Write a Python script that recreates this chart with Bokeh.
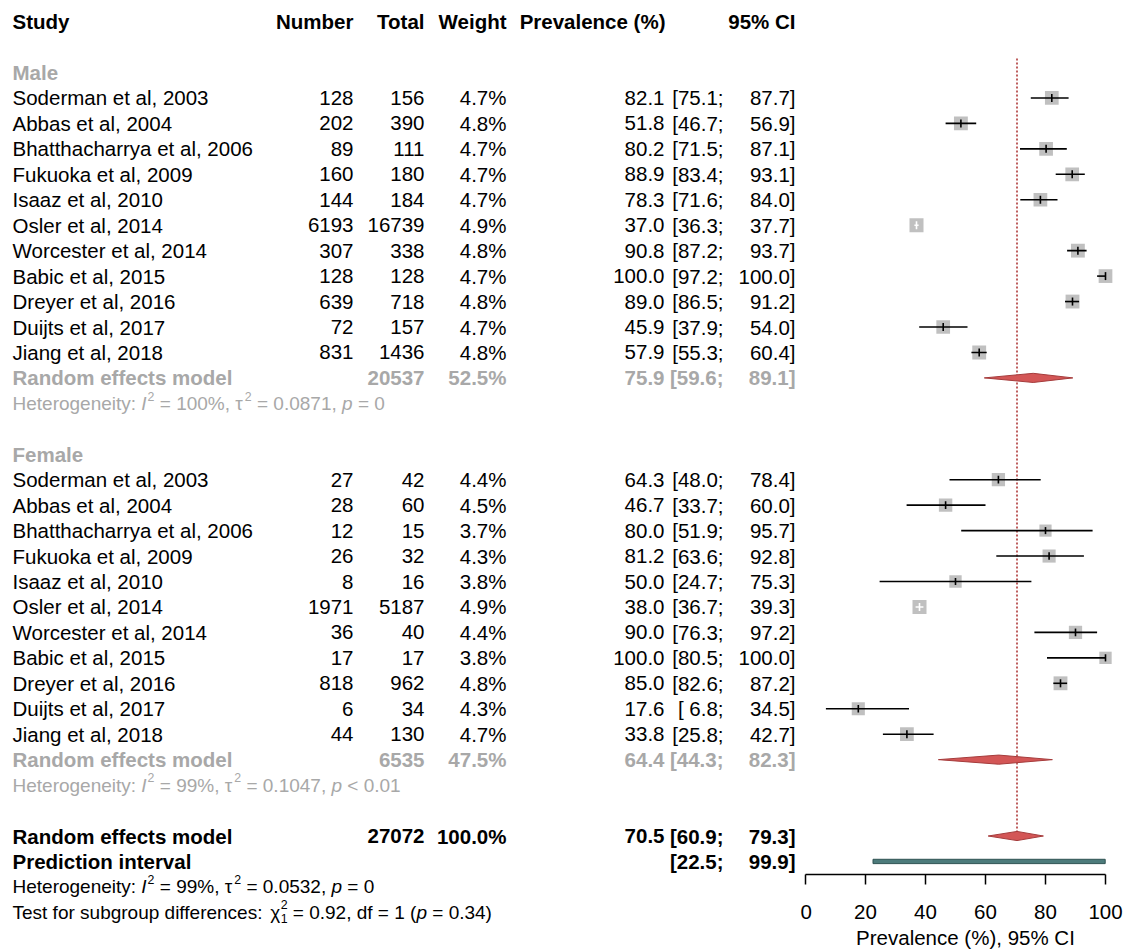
from collections import defaultdict

import numpy as np
from bokeh.core.properties import value
from bokeh.embed import file_html
from bokeh.layouts import row
from bokeh.models import ColumnDataSource, FixedTicker, Range1d
from bokeh.plotting import figure
from bokeh.resources import INLINE

# ---------------------------------------------------------------- data
studies = ["Soderman et al, 2003", "Abbas et al, 2004", "Bhatthacharrya et al, 2006",
           "Fukuoka et al, 2009", "Isaaz et al, 2010", "Osler et al, 2014",
           "Worcester et al, 2014", "Babic et al, 2015", "Dreyer et al, 2016",
           "Duijts et al, 2017", "Jiang et al, 2018"]

male_events = [128, 202, 89, 160, 144, 6193, 307, 128, 639, 72, 831]
male_total = [156, 390, 111, 180, 184, 16739, 338, 128, 718, 157, 1436]
male_weight = [4.7, 4.8, 4.7, 4.7, 4.7, 4.9, 4.8, 4.7, 4.8, 4.7, 4.8]
male_prev = [82.1, 51.8, 80.2, 88.9, 78.3, 37.0, 90.8, 100.0, 89.0, 45.9, 57.9]
male_lower = [75.1, 46.7, 71.5, 83.4, 71.6, 36.3, 87.2, 97.2, 86.5, 37.9, 55.3]
male_upper = [87.7, 56.9, 87.1, 93.1, 84.0, 37.7, 93.7, 100.0, 91.2, 54.0, 60.4]

female_events = [27, 28, 12, 26, 8, 1971, 36, 17, 818, 6, 44]
female_total = [42, 60, 15, 32, 16, 5187, 40, 17, 962, 34, 130]
female_weight = [4.4, 4.5, 3.7, 4.3, 3.8, 4.9, 4.4, 3.8, 4.8, 4.3, 4.7]
female_prev = [64.3, 46.7, 80.0, 81.2, 50.0, 38.0, 90.0, 100.0, 85.0, 17.6, 33.8]
female_lower = [48.0, 33.7, 51.9, 63.6, 24.7, 36.7, 76.3, 80.5, 82.6, 6.8, 25.8]
female_upper = [78.4, 60.0, 95.7, 92.8, 75.3, 39.3, 97.2, 100.0, 87.2, 34.5, 42.7]

subgroups = ["Male", "Female"]
sub_total = [20537, 6535]
sub_weight = [52.5, 47.5]
sub_est = [75.9, 64.4]
sub_lower = [59.6, 44.3]
sub_upper = [89.1, 82.3]

overall_total = 27072
overall_weight = 100.0
overall_est = 70.5
overall_lower = 60.9
overall_upper = 79.3
pred_lower = 22.5
pred_upper = 99.9

axis_ticks = [0, 20, 40, 60, 80, 100]

# ---------------------------------------------------------------- style
FONT = "Liberation Sans"
MAIN = 20.5
HET = 19
GRAY_TXT = "#A8A8A8"
BOX_GRAY = "#C0C0C0"
DIAMOND_FILL = "#D35656"
DIAMOND_LINE = "#A53C3C"
PRED_FILL = "#4D7B7B"
PRED_LINE = "#2F5252"
REF_LINE = "#BE5F5F"

ROW_PX = 25.45     # vertical distance between rows
TOP_PX = 72        # pixel centre of row 0
FRAME_H = 874      # height of the forest panel frame
PAGE_H = 950

# column anchors (pixels in the table panel)
X_NAME = 12
X_EVENTS = 353
X_TOTAL = 424
X_WEIGHT = 506
X_PREV = 664
X_LOWER = 723
X_UPPER = 795

# Arial / Liberation Sans advance widths (1/1000 em) used to lay out rich text runs
W = {" ": 278, "%": 889, "(": 333, ")": 333, ",": 278, ".": 278, ":": 278, ";": 278,
     "<": 584, "=": 584, "H": 722, "I": 278, "T": 611, "b": 556, "c": 500, "d": 556,
     "e": 556, "f": 278, "g": 556, "i": 222, "n": 556, "o": 556, "p": 556, "r": 333,
     "s": 500, "t": 278, "u": 556, "y": 500, "τ": 450, "χ": 500}


def run_width(s, size):
    return sum(W.get(c, 556) for c in s) / 1000.0 * size


# ---------------------------------------------------------------- table panel
left = figure(frame_width=800, frame_height=PAGE_H, output_backend="svg", toolbar_location=None,
              x_range=Range1d(0, 800),
              y_range=Range1d(start=(PAGE_H - TOP_PX) / ROW_PX, end=-TOP_PX / ROW_PX),
              x_axis_location=None, y_axis_location=None,
              min_border=0, outline_line_color=None, background_fill_color="white")
left.xgrid.visible = False
left.ygrid.visible = False
left.grid.grid_line_color = None

texts = defaultdict(lambda: dict(x=[], y=[], text=[]))


def put(x, y, txt, align="left", color="black", style="normal", size=MAIN, yoff=0.0):
    g = texts[(align, color, style, round(size, 2), round(yoff, 2))]
    g["x"].append(x)
    g["y"].append(y)
    g["text"].append(txt)


def rich_line(y, runs, color, size=HET):
    cur = float(X_NAME)
    for txt, kind in runs:
        if kind in ("n", "i"):
            lead = len(txt) - len(txt.lstrip(" "))
            body = txt.strip(" ")
            put(cur + run_width(" " * lead, size), y, body, color=color,
                style="italic" if kind == "i" else "normal", size=size)
            cur += run_width(txt, size)
        elif kind == "sup":
            ss = size * 0.65
            put(cur + 1, y, txt, color=color, size=ss, yoff=-0.38 * size)
            cur += run_width(txt, ss) + 1
        elif kind == "supsub":
            sup, sub = txt.split("|")
            ss = size * 0.65
            put(cur + 1, y, sup, color=color, size=ss, yoff=-0.40 * size)
            put(cur + 1, y, sub, color=color, size=ss, yoff=0.34 * size)
            cur += max(run_width(sup, ss), run_width(sub, ss)) + 1


def ci_cells(y, lo, hi, color="black", style="normal"):
    put(X_LOWER, y, f"[{lo:4.1f};", align="right", color=color, style=style)
    put(X_UPPER, y, f"{hi:.1f}]", align="right", color=color, style=style)


# header
HEAD_Y = -2
put(X_NAME, HEAD_Y, "Study", style="bold")
put(X_EVENTS, HEAD_Y, "Number", align="right", style="bold")
put(X_TOTAL, HEAD_Y, "Total", align="right", style="bold")
put(X_WEIGHT, HEAD_Y, "Weight", align="right", style="bold")
put(X_PREV + 1, HEAD_Y, "Prevalence (%)", align="right", style="bold")
put(X_UPPER, HEAD_Y, "95% CI", align="right", style="bold")

het_runs = [
    [("Heterogeneity: ", "n"), ("I", "i"), ("2", "sup"), (" = 100%, τ", "n"), ("2", "sup"),
     (" = 0.0871, ", "n"), ("p", "i"), (" = 0", "n")],
    [("Heterogeneity: ", "n"), ("I", "i"), ("2", "sup"), (" = 99%, τ", "n"), ("2", "sup"),
     (" = 0.1047, ", "n"), ("p", "i"), (" < 0.01", "n")],
]

group_data = [
    (male_events, male_total, male_weight, male_prev, male_lower, male_upper),
    (female_events, female_total, female_weight, female_prev, female_lower, female_upper),
]
group_start = [0, 15]

study_rows = []   # (row, weight, prev, lower, upper)
for gi, (ev, tot, wt, pr, lo, hi) in enumerate(group_data):
    r0 = group_start[gi]
    put(X_NAME, r0, subgroups[gi], color=GRAY_TXT, style="bold")
    for k in range(len(studies)):
        r = r0 + 1 + k
        put(X_NAME, r, studies[k])
        put(X_EVENTS, r, f"{ev[k]}", align="right")
        put(X_TOTAL, r, f"{tot[k]}", align="right")
        put(X_WEIGHT, r, f"{wt[k]:.1f}%", align="right")
        put(X_PREV, r, f"{pr[k]:.1f}", align="right")
        ci_cells(r, lo[k], hi[k])
        study_rows.append((r, wt[k], pr[k], lo[k], hi[k]))
    rs = r0 + 1 + len(studies)
    put(X_NAME, rs, "Random effects model", color=GRAY_TXT, style="bold")
    put(X_TOTAL, rs, f"{sub_total[gi]}", align="right", color=GRAY_TXT, style="bold")
    put(X_WEIGHT, rs, f"{sub_weight[gi]:.1f}%", align="right", color=GRAY_TXT, style="bold")
    put(X_PREV, rs, f"{sub_est[gi]:.1f}", align="right", color=GRAY_TXT, style="bold")
    ci_cells(rs, sub_lower[gi], sub_upper[gi], color=GRAY_TXT, style="bold")
    rich_line(rs + 1, het_runs[gi], GRAY_TXT)

ROW_OVERALL = 30
ROW_PRED = 31
put(X_NAME, ROW_OVERALL, "Random effects model", style="bold")
put(X_TOTAL, ROW_OVERALL, f"{overall_total}", align="right", style="bold")
put(X_WEIGHT, ROW_OVERALL, f"{overall_weight:.1f}%", align="right", style="bold")
put(X_PREV, ROW_OVERALL, f"{overall_est:.1f}", align="right", style="bold")
ci_cells(ROW_OVERALL, overall_lower, overall_upper, style="bold")
put(X_NAME, ROW_PRED, "Prediction interval", style="bold")
ci_cells(ROW_PRED, pred_lower, pred_upper, style="bold")

rich_line(32, [("Heterogeneity: ", "n"), ("I", "i"), ("2", "sup"), (" = 99%, τ", "n"), ("2", "sup"),
               (" = 0.0532, ", "n"), ("p", "i"), (" = 0", "n")], "black")
rich_line(33, [("Test for subgroup differences: ", "n"), ("χ", "n"), ("2|1", "supsub"),
               (" = 0.92, df = 1 (", "n"), ("p", "i"), (" = 0.34)", "n")], "black")

for (align, color, style, size, yoff), d in texts.items():
    left.text(x="x", y="y", text="text", source=ColumnDataSource(d),
              text_align=align, text_baseline="middle", text_color=color,
              text_font=value(FONT), text_font_style=style,
              text_font_size=f"{size}px", y_offset=yoff)

# ---------------------------------------------------------------- forest panel
right = figure(frame_width=330, frame_height=FRAME_H, output_backend="svg", toolbar_location=None,
               x_range=Range1d(-5 / 3, 325 / 3),
               y_range=Range1d(start=(FRAME_H - TOP_PX) / ROW_PX, end=-TOP_PX / ROW_PX),
               y_axis_location=None, min_border=0, outline_line_color=None,
               background_fill_color="white")
right.xgrid.visible = False
right.ygrid.visible = False

# reference line at the overall estimate
right.segment(x0=[overall_est], y0=[-0.55], x1=[overall_est], y1=[ROW_OVERALL + 0.2],
              line_color=REF_LINE, line_width=2, line_dash="2 2")

rows_arr = np.array([s[0] for s in study_rows], dtype=float)
w_arr = np.array([s[1] for s in study_rows])
est_arr = np.array([s[2] for s in study_rows])
lo_arr = np.array([s[3] for s in study_rows])
hi_arr = np.array([s[4] for s in study_rows])

box_px = 14.0 * np.sqrt(w_arr / 4.9)
px_per_unit = 330 / 110.0
half_box_units = box_px / 2 / px_per_unit
inside = (lo_arr >= est_arr - half_box_units) & (hi_arr <= est_arr + half_box_units)
line_col = np.where(inside, "white", "black").tolist()
tick_half = 0.29 * box_px / ROW_PX

src = ColumnDataSource(dict(y=rows_arr, est=est_arr, lo=lo_arr, hi=hi_arr, size=box_px,
                            col=line_col, t0=rows_arr - tick_half, t1=rows_arr + tick_half))
right.scatter(x="est", y="y", size="size", marker="square", source=src,
              fill_color=BOX_GRAY, line_color=None)
right.segment(x0="lo", y0="y", x1="hi", y1="y", line_color="col", line_width=1.6, source=src)
right.segment(x0="est", y0="t0", x1="est", y1="t1", line_color="col", line_width=1.6, source=src)

# pooled diamonds
DH = 0.18
d_rows = [group_start[0] + 12, group_start[1] + 12, ROW_OVERALL]
d_est = sub_est + [overall_est]
d_lo = sub_lower + [overall_lower]
d_hi = sub_upper + [overall_upper]
right.patches(xs=[[lo, e, hi, e] for lo, e, hi in zip(d_lo, d_est, d_hi)],
              ys=[[r, r - DH, r, r + DH] for r in d_rows],
              fill_color=DIAMOND_FILL, line_color=DIAMOND_LINE, line_width=1)

# prediction interval
right.hbar(y=[ROW_PRED], left=[pred_lower], right=[pred_upper], height=0.17,
           fill_color=PRED_FILL, line_color=PRED_LINE, line_width=1)

ax = right.xaxis[0]
ax.ticker = FixedTicker(ticks=axis_ticks)
ax.bounds = (0, 100)
ax.axis_line_width = 1.5
ax.axis_line_color = "black"
ax.major_tick_line_width = 1.5
ax.major_tick_line_color = "black"
ax.major_tick_out = 10
ax.major_tick_in = 0
ax.minor_tick_line_color = None
ax.major_label_text_font = FONT
ax.major_label_text_font_size = f"{MAIN}px"
ax.major_label_text_color = "black"
ax.major_label_standoff = 20
ax.axis_label = "Prevalence (%), 95% CI"
ax.axis_label_text_font = FONT
ax.axis_label_text_font_size = f"{MAIN}px"
ax.axis_label_text_font_style = "normal"
ax.axis_label_text_color = "black"
ax.axis_label_standoff = 4

page = row(left, right)
open("out.html", "w").write(file_html(page, INLINE))
